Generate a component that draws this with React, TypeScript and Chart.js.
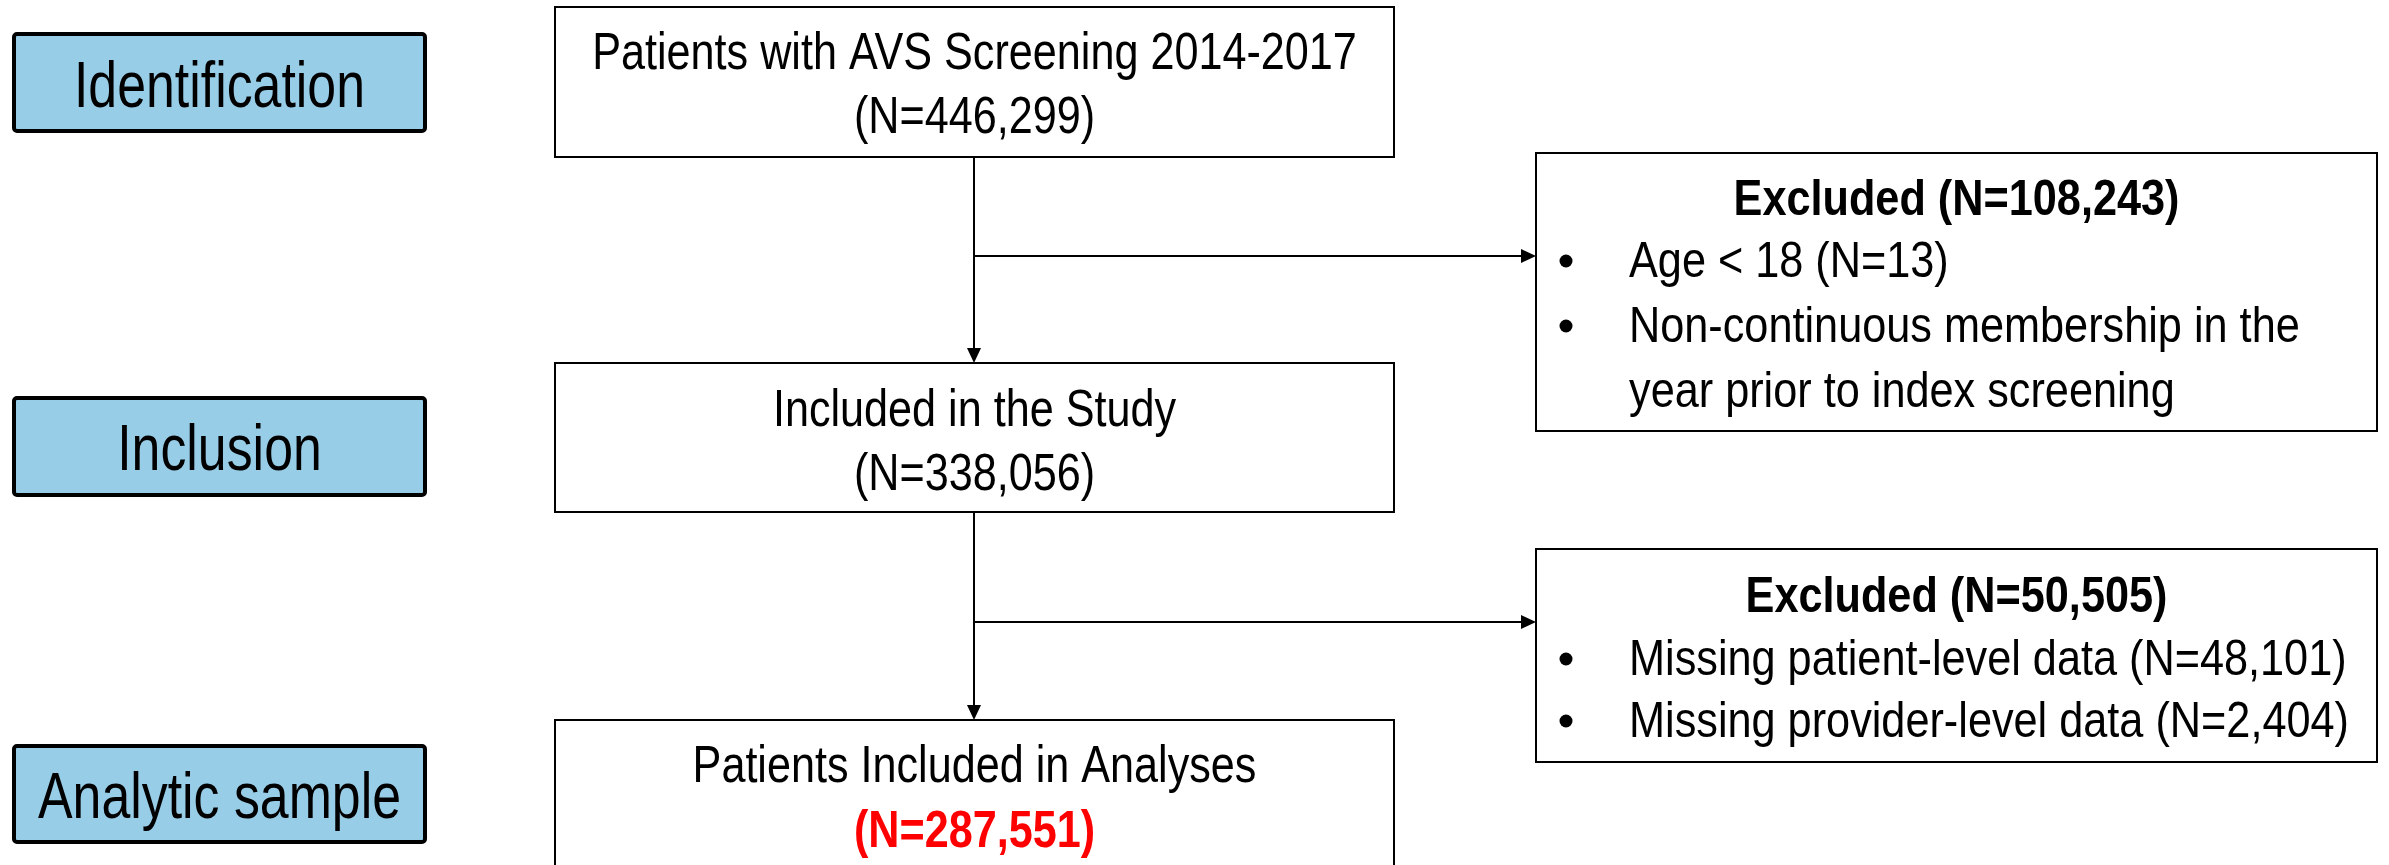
import React, { useEffect, useRef } from "react";
import { Chart, registerables } from "chart.js";

Chart.register(...registerables);

// ---- Content (data) ----
const stageLabels: string[] = ["Identification", "Inclusion", "Analytic sample"];
const flowTitles: string[] = [
  "Patients with AVS Screening 2014-2017",
  "Included in the Study",
  "Patients Included in Analyses",
];
const flowCounts: string[] = ["(N=446,299)", "(N=338,056)", "(N=287,551)"];
const excludedTitles: string[] = ["Excluded (N=108,243)", "Excluded (N=50,505)"];
const excludedItems1: string[][] = [
  ["Age < 18 (N=13)"],
  ["Non-continuous membership in the", "year prior to index screening"],
];
const excludedItems2: string[][] = [
  ["Missing patient-level data (N=48,101)"],
  ["Missing provider-level data (N=2,404)"],
];
const excludedItems: string[][][] = [excludedItems1, excludedItems2];

// ---- Layout (positions in the 2389 x 865 value space) ----
const W = 2389;
const H = 865;
const FONT = '"Liberation Sans", Arial, Helvetica, sans-serif';
const stageBox = { x0: 12, x1: 427, rows: [[32, 133], [396, 497], [744, 844]], baselines: [107, 470, 818] };
const flowBox = {
  x0: 555,
  x1: 1394,
  rows: [[7, 157], [363, 512], [720, 900]],
  baselines: [[69, 133], [426, 490], [782, 847]],
};
const trunkX = 974;
const branchY = [256, 622];
const exclBox = {
  x0: 1536,
  x1: 2377,
  rows: [[153, 431], [549, 762]],
  titleBase: [215, 612],
  lineBases: [[277, 342, 407], [675, 737]],
  bulletX: 1566,
  textX: 1629,
};

function drawText(
  ctx: CanvasRenderingContext2D,
  text: string,
  x: number,
  y: number,
  size: number,
  sx: number,
  align: CanvasTextAlign,
  bold = false,
  color = "#000000"
) {
  ctx.save();
  ctx.translate(x, y);
  ctx.scale(sx, 1);
  ctx.font = `${bold ? "bold " : ""}${size}px ${FONT}`;
  ctx.fillStyle = color;
  ctx.textAlign = align;
  ctx.textBaseline = "alphabetic";
  ctx.fillText(text, 0, 0);
  ctx.restore();
}

const flowPlugin = {
  id: "flowPlugin",
  afterDraw(chart: any) {
    const ctx: CanvasRenderingContext2D = chart.ctx;
    const xs = chart.scales.x;
    const ys = chart.scales.y;
    const px = (v: number) => xs.getPixelForValue(v);
    const py = (v: number) => ys.getPixelForValue(v);

    ctx.save();
    // white background
    ctx.fillStyle = "#ffffff";
    ctx.fillRect(0, 0, chart.width, chart.height);

    // Stage boxes (left, blue)
    stageLabels.forEach((label, i) => {
      const [t, b] = stageBox.rows[i];
      const x0 = px(stageBox.x0), x1 = px(stageBox.x1);
      const y0 = py(t), y1 = py(b);
      ctx.beginPath();
      (ctx as any).roundRect
        ? (ctx as any).roundRect(x0 + 2, y0 + 2, x1 - x0 - 4, y1 - y0 - 4, 3)
        : ctx.rect(x0 + 2, y0 + 2, x1 - x0 - 4, y1 - y0 - 4);
      ctx.fillStyle = "#98CDE8";
      ctx.fill();
      ctx.lineWidth = 4;
      ctx.strokeStyle = "#000000";
      ctx.stroke();
      drawText(ctx, label, (x0 + x1) / 2, py(stageBox.baselines[i]), 64, 0.81, "center");
    });

    // Connector lines
    ctx.strokeStyle = "#000000";
    ctx.fillStyle = "#000000";
    ctx.lineWidth = 2;
    const arrowDown = (x: number, yTip: number) => {
      ctx.beginPath();
      ctx.moveTo(x, yTip);
      ctx.lineTo(x - 7, yTip - 15);
      ctx.lineTo(x + 7, yTip - 15);
      ctx.closePath();
      ctx.fill();
    };
    const arrowRight = (xTip: number, y: number) => {
      ctx.beginPath();
      ctx.moveTo(xTip, y);
      ctx.lineTo(xTip - 15, y - 7);
      ctx.lineTo(xTip - 15, y + 7);
      ctx.closePath();
      ctx.fill();
    };
    for (let i = 0; i < 2; i++) {
      const yStart = py(flowBox.rows[i][1]);
      const yEnd = py(flowBox.rows[i + 1][0]);
      const x = px(trunkX);
      ctx.beginPath();
      ctx.moveTo(x, yStart);
      ctx.lineTo(x, yEnd - 12);
      ctx.stroke();
      arrowDown(x, yEnd);
      const by = py(branchY[i]);
      ctx.beginPath();
      ctx.moveTo(x, by);
      ctx.lineTo(px(exclBox.x0) - 12, by);
      ctx.stroke();
      arrowRight(px(exclBox.x0), by);
    }

    // Flow boxes (center)
    flowTitles.forEach((title, i) => {
      const [t, b] = flowBox.rows[i];
      const x0 = px(flowBox.x0), x1 = px(flowBox.x1);
      const y0 = py(t), y1 = py(b);
      ctx.fillStyle = "#ffffff";
      ctx.fillRect(x0, y0, x1 - x0, y1 - y0);
      ctx.lineWidth = 2;
      ctx.strokeStyle = "#000000";
      ctx.strokeRect(x0, y0, x1 - x0, y1 - y0);
      const cx = (x0 + x1) / 2;
      drawText(ctx, title, cx, py(flowBox.baselines[i][0]), 52, 0.83, "center");
      const last = i === flowTitles.length - 1;
      drawText(ctx, flowCounts[i], cx, py(flowBox.baselines[i][1]), 52, 0.83, "center", last, last ? "#FF0000" : "#000000");
    });

    // Excluded boxes (right)
    excludedTitles.forEach((title, i) => {
      const [t, b] = exclBox.rows[i];
      const x0 = px(exclBox.x0), x1 = px(exclBox.x1);
      const y0 = py(t), y1 = py(b);
      ctx.fillStyle = "#ffffff";
      ctx.fillRect(x0, y0, x1 - x0, y1 - y0);
      ctx.lineWidth = 2;
      ctx.strokeStyle = "#000000";
      ctx.strokeRect(x0, y0, x1 - x0, y1 - y0);
      drawText(ctx, title, (x0 + x1) / 2, py(exclBox.titleBase[i]), 50, 0.865, "center", true);
      let li = 0;
      excludedItems[i].forEach((item) => {
        item.forEach((line, k) => {
          const base = py(exclBox.lineBases[i][li]);
          if (k === 0) {
            ctx.beginPath();
            ctx.arc(px(exclBox.bulletX), base - 16, 6.5, 0, Math.PI * 2);
            ctx.fillStyle = "#000000";
            ctx.fill();
          }
          drawText(ctx, line, px(exclBox.textX), base, 50, 0.865, "left");
          li++;
        });
      });
    });
    ctx.restore();
  },
};

export default function App() {
  const ref = useRef<HTMLCanvasElement | null>(null);
  useEffect(() => {
    if (!ref.current) return;
    const chart = new Chart(ref.current, {
      type: "scatter",
      data: { datasets: [] },
      options: {
        animation: false,
        responsive: false,
        devicePixelRatio: 1,
        layout: { padding: 0 },
        plugins: { legend: { display: false }, tooltip: { enabled: false } },
        scales: {
          x: { type: "linear", min: 0, max: W, display: false },
          y: { type: "linear", min: 0, max: H, reverse: true, display: false },
        },
      },
      plugins: [flowPlugin],
    } as any);
    return () => chart.destroy();
  }, []);
  return (
    <div style={{ position: "fixed", left: 0, top: 0, width: W, height: H, background: "#fff" }}>
      <canvas ref={ref} width={W} height={H} style={{ width: W, height: H, display: "block" }} />
    </div>
  );
}
